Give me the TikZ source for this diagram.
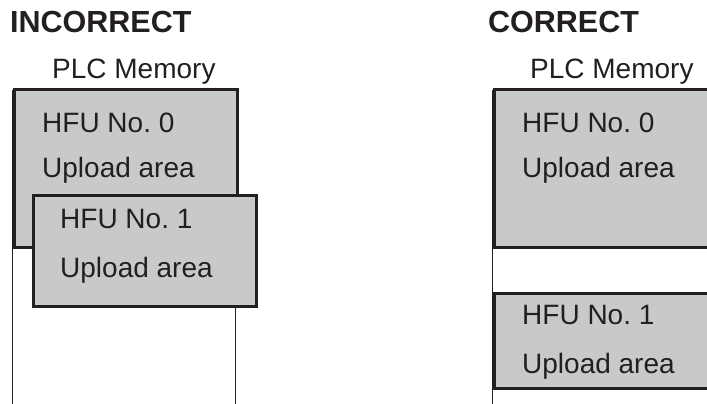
\documentclass[tikz,border=0pt]{standalone}
\usepackage{fontspec}
\setmainfont{Liberation Sans}
\usepackage{tikz}
\usetikzlibrary{positioning}
\definecolor{hfugray}{RGB}{200,201,203}
\definecolor{inkdark}{RGB}{35,31,32}
\frenchspacing

\begin{document}
\begin{tikzpicture}[x=1pt,y=-1pt,
  every node/.style={font=\fontsize{28}{32}\selectfont,text=inkdark,inner sep=0pt},
  heading/.style={font=\fontsize{30.5}{34}\selectfont\bfseries,anchor=base west},
  boxtext/.style={anchor=base west},
  hfubox/.style={draw=inkdark,line width=3pt,fill=hfugray,anchor=north west,
    minimum width=223,minimum height=#1},
  memline/.style={draw=inkdark,line width=0.9pt}]
  \clip (0,0) rectangle (707,404);
  % headings
  \node[heading] (inc) at (10,33) {INCORRECT};
  \node[heading] (cor) at (488,33) {CORRECT};
  \node[boxtext] (memL) at (52,78) {PLC Memory};
  \node[boxtext] (memR) at (530,78) {PLC Memory};
  % memory outlines
  \coordinate (aL) at (12.5,90);  \coordinate (aLb) at (12.5,404);
  \coordinate (bL) at (235,90);   \coordinate (bLb) at (235,404);
  \coordinate (aR) at (492.5,90); \coordinate (aRb) at (492.5,404);
  \draw[memline] (aL) -- (aLb);
  \draw[memline] (bL) -- (bLb);
  \draw[memline] (aR) -- (aRb);
  % incorrect
  \node[hfubox=158] (inc0) at (13,88) {};
  \node[hfubox=111] (inc1) at (32,194) {};
  % correct
  \node[hfubox=158] (cor0) at (493,88) {};
  \node[hfubox=95] (cor1) at (493,292) {};
  % texts
  \foreach \xpos/\ypos/\entry in {42/132/{HFU No. 0},42/177/{Upload area},
      60/228/{HFU No. 1},60/277/{Upload area},
      522/132/{HFU No. 0},522/177/{Upload area},
      522/324/{HFU No. 1},522/373/{Upload area}}
    \node[boxtext] at (\xpos,\ypos) {\entry};
\end{tikzpicture}
\end{document}
